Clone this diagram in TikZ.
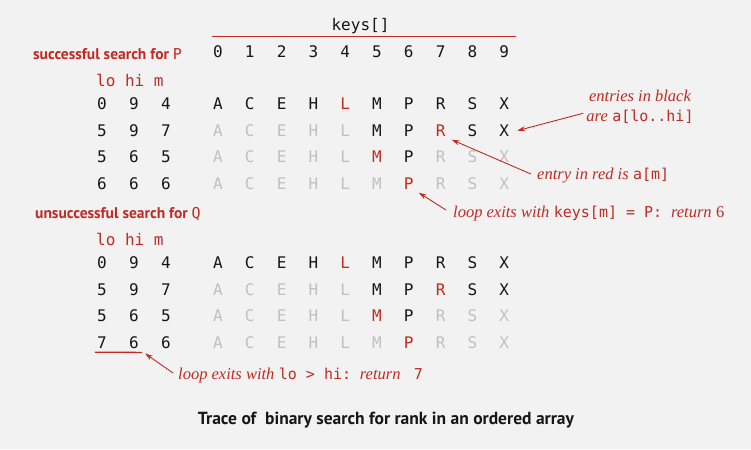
\documentclass[tikz,border=0pt]{standalone}
\usepackage{fontspec}
\setmainfont{PT Sans}
\setmonofont{DejaVu Sans Mono}
\newfontfamily\serifit{Liberation Serif}
\usetikzlibrary{arrows.meta}
\definecolor{bg}{RGB}{242,242,242}
\definecolor{rd}{RGB}{192,42,34}
\definecolor{gr}{RGB}{192,192,192}
\definecolor{tx}{RGB}{22,22,22}
\newcommand\an[1]{{\serifit\itshape #1}}
\newcommand\mo[1]{{\ttfamily\fontsize{15}{17}\selectfont #1}}
\begin{document}
\begin{tikzpicture}[x=1pt,y=-1pt,
  cell/.style={font=\fontsize{16}{18}\selectfont\ttfamily, inner sep=0pt, anchor=base},
  lbl/.style={font=\fontsize{15.5}{17}\selectfont\bfseries, text=rd, inner sep=0pt, anchor=base west},
  note/.style={font=\fontsize{16.5}{18}\selectfont, text=rd, inner sep=0pt, anchor=base west},
  arr/.style={draw=rd, line width=0.9pt, -{Stealth[length=8pt,width=5pt]}}]
\fill[bg] (0,0) rectangle (751,449);
\useasboundingbox (0,0) rectangle (751,449);
% header
\node[cell, text=tx] (keys) at (360.5,31) {keys[]};
\draw[rd, line width=1pt] (212,37) -- (516,37);
\foreach \i in {0,...,9}{
  \node[cell, text=tx] (h\i) at (218+31.8*\i,58) {\i};
}
% section labels
\node[lbl] (succ) at (33,60) {successful search for {\mdseries\ttfamily\fontsize{15}{17}\selectfont P}};
\node[lbl] (unsucc) at (35,218) {unsuccessful search for {\mdseries\ttfamily\fontsize{15}{17}\selectfont Q}};
\node[cell, text=rd, anchor=base west] (hdrA) at (96,87) {lo hi m};
\node[cell, text=rd, anchor=base west] (hdrB) at (96,245) {lo hi m};
% lo hi m values
\foreach \r/\y/\lo/\hi/\m in {1/110/0/9/4, 2/136.5/5/9/7, 3/163/5/6/5, 4/189.5/6/6/6,
                              5/268/0/9/4, 6/295/5/9/7, 7/321.5/5/6/5, 8/348/7/6/6}{
  \node[cell, text=tx] (lo\r) at (102,\y) {\lo};
  \node[cell, text=tx] (hi\r) at (134,\y) {\hi};
  \node[cell, text=tx] (m\r) at (166,\y) {\m};
}
% keys rows
\foreach \r/\y/\pat in {
  1/110/{tx,tx,tx,tx,rd,tx,tx,tx,tx,tx},
  2/136.5/{gr,gr,gr,gr,gr,tx,tx,rd,tx,tx},
  3/163/{gr,gr,gr,gr,gr,rd,tx,gr,gr,gr},
  4/189.5/{gr,gr,gr,gr,gr,gr,rd,gr,gr,gr},
  5/268/{tx,tx,tx,tx,rd,tx,tx,tx,tx,tx},
  6/295/{gr,gr,gr,gr,gr,tx,tx,rd,tx,tx},
  7/321.5/{gr,gr,gr,gr,gr,rd,tx,gr,gr,gr},
  8/348/{gr,gr,gr,gr,gr,gr,rd,gr,gr,gr}}{
  \foreach \col [count=\c from 0] in \pat {
    \pgfmathsetmacro{\L}{{"A","C","E","H","L","M","P","R","S","X"}[\c]}
    \node[cell, text=\col] (k\r c\c) at (218+31.8*\c,\y) {\L};
  }
}
% annotations
\node[note, anchor=base] (a1) at (640,102) {\an{entries in black}};
\node[note, anchor=base] (a2) at (640,122) {\an{are} \mo{a[lo..hi]}};
\node[note] (a3) at (537,179) {\an{entry in red is} \mo{a[m]}};
\node[note] (a4) at (453,217) {\an{loop exits with} \mo{keys[m] = P:}\ \ \an{return} {\serifit 6}};
\node[note] (a5) at (178,379) {\an{loop exits with} \mo{lo > hi:}\ \ \an{return}\ \ \ \mo{7}};
\node[font=\fontsize{17.5}{20}\selectfont\bfseries, text=tx, inner sep=0pt, anchor=base] (cap) at (386,424) {Trace of\ \ binary search for rank in an ordered array};
% connectors
\coordinate (s1) at ([shift={(-3,-4)}]a2.west);
\coordinate (e1) at ([xshift=8]k2c9.east);
\draw[arr] (s1) -- (e1);
\coordinate (s2) at ([shift={(-6,-1)}]a3.west);
\coordinate (e2) at ([shift={(6,3)}]k2c7.south east);
\draw[arr] (s2) -- (e2);
\coordinate (s3) at ([shift={(-7,-3)}]a4.west);
\coordinate (e3) at ([shift={(5,3)}]k4c6.south east);
\draw[arr] (s3) -- (e3);
\coordinate (u1) at ([shift={(-2,4)}]lo8.south west);
\coordinate (u2) at ([shift={(3,4)}]hi8.south east);
\draw[rd, line width=1.3pt] (u1) -- (u2);
\coordinate (s4) at ([shift={(-5,-2)}]a5.west);
\draw[arr] (s4) -- ([shift={(3,1)}]u2);
\end{tikzpicture}
\end{document}
